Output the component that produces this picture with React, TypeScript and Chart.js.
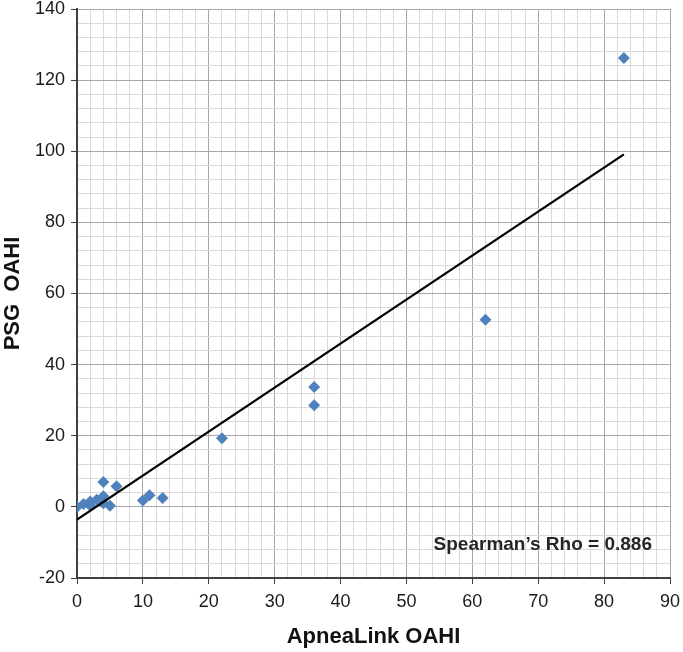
import React, { useEffect, useRef } from 'react';
import { Chart, registerables } from 'chart.js';

Chart.register(...registerables);

const apneaLinkOAHI = [0, 1, 2, 2, 3, 4, 4, 4, 5, 6, 10, 11, 13, 22, 36, 36, 62, 83];
const psgOAHI = [0, 0.8, 0.4, 1.5, 2, 3, 7, 1, 0.3, 5.8, 1.8, 3.3, 2.5, 19.3, 33.7, 28.6, 52.6, 126.2];
const trendX = [0, 83];
const trendY = [-3.6, 99.1];
const xTickLabels = [0, 10, 20, 30, 40, 50, 60, 70, 80, 90];
const yTickLabels = [-20, 0, 20, 40, 60, 80, 100, 120, 140];
const xTitle = 'ApneaLink OAHI';
const yTitle = 'PSG  OAHI';
const annotationText = 'Spearman\u2019s Rho = 0.886';

const FONT = "'Liberation Sans', Arial, sans-serif";
const MAJOR = '#a6a6a6';
const MINOR = '#d9d9d9';
const AXIS = '#404040';

const annotationPlugin = {
  id: 'spearman',
  afterDatasetsDraw(chart: any) {
    const { ctx, chartArea } = chart;
    ctx.save();
    ctx.font = `bold 19px ${FONT}`;
    ctx.fillStyle = '#262626';
    ctx.textAlign = 'right';
    ctx.textBaseline = 'middle';
    ctx.fillText(annotationText, chartArea.right - 18, chartArea.bottom - 33);
    ctx.restore();
  },
};

export default function App() {
  const ref = useRef<HTMLCanvasElement>(null);

  useEffect(() => {
    if (!ref.current) return;
    const chart = new Chart(ref.current, {
      type: 'scatter',
      data: {
        datasets: [
          {
            label: 'Trend',
            data: trendX.map((x, i) => ({ x, y: trendY[i] })),
            showLine: true,
            borderColor: '#000000',
            borderWidth: 2.2,
            pointRadius: 0,
            fill: false,
          } as any,
          {
            label: 'Points',
            data: apneaLinkOAHI.map((x, i) => ({ x, y: psgOAHI[i] })),
            pointStyle: 'rectRot',
            pointRadius: 6,
            backgroundColor: '#4f81bd',
            borderColor: '#4f81bd',
            borderWidth: 0,
          },
        ],
      },
      options: {
        animation: false,
        responsive: false,
        devicePixelRatio: 1,
        layout: { padding: { top: 9, right: 13, left: 0, bottom: 0 } },
        plugins: {
          legend: { display: false },
          tooltip: { enabled: false },
        },
        scales: {
          x: {
            type: 'linear',
            min: 0,
            max: 90,
            afterFit: (s: any) => { s.height = 74; s.paddingLeft = 0; s.paddingRight = 0; },
            ticks: {
              stepSize: 2,
              autoSkip: false,
              maxRotation: 0,
              padding: 7,
              color: '#1a1a1a',
              font: { family: FONT, size: 18 },
              callback: (v: any) => (xTickLabels.includes(Number(v)) ? String(v) : ''),
            },
            grid: {
              color: (c: any) => (c.tick && xTickLabels.includes(c.tick.value) ? MAJOR : MINOR),
              tickColor: (c: any) => (c.tick && xTickLabels.includes(c.tick.value) ? AXIS : 'rgba(0,0,0,0)'),
              tickLength: 6,
              lineWidth: 1,
            },
            border: { color: AXIS, width: 2 },
            title: {
              display: true,
              text: xTitle,
              color: '#111111',
              font: { family: FONT, size: 22, weight: 'bold' },
              padding: { top: 0, bottom: 2 },
            },
          },
          y: {
            type: 'linear',
            min: -20,
            max: 140,
            afterFit: (s: any) => { s.width = 77; s.paddingTop = 0; s.paddingBottom = 0; },
            ticks: {
              stepSize: 4,
              autoSkip: false,
              padding: 6,
              color: '#1a1a1a',
              font: { family: FONT, size: 18 },
              callback: (v: any) => (yTickLabels.includes(Number(v)) ? String(v) : ''),
            },
            grid: {
              color: (c: any) => (c.tick && yTickLabels.includes(c.tick.value) ? MAJOR : MINOR),
              tickColor: (c: any) => (c.tick && yTickLabels.includes(c.tick.value) ? AXIS : 'rgba(0,0,0,0)'),
              tickLength: 6,
              lineWidth: 1,
            },
            border: { color: AXIS, width: 2 },
            title: {
              display: true,
              text: yTitle,
              color: '#111111',
              font: { family: FONT, size: 22, weight: 'bold' },
              padding: { top: 0, bottom: 0 },
            },
          },
        },
      },
      plugins: [annotationPlugin],
    });
    return () => chart.destroy();
  }, []);

  return (
    <div style={{ position: 'absolute', left: 0, top: 0, width: 683, height: 652, background: '#ffffff' }}>
      <canvas ref={ref} width={683} height={652} style={{ width: 683, height: 652 }} />
    </div>
  );
}
